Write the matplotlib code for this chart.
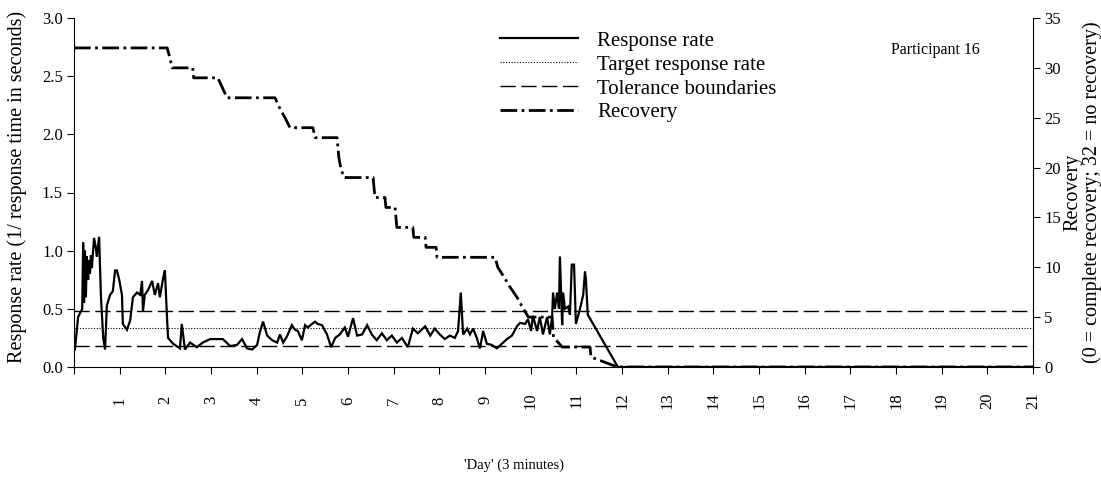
import matplotlib
matplotlib.use("Agg")
import matplotlib.pyplot as plt

plt.rcParams['font.family'] = ['Liberation Serif', 'DejaVu Serif']

# response rate (1 / response time)
resp_day = [0.02, 0.09, 0.18, 0.20, 0.22, 0.24, 0.26, 0.28, 0.31, 0.33, 0.35, 0.37,
            0.39, 0.44, 0.48, 0.50, 0.55, 0.59, 0.64, 0.68, 0.72, 0.79, 0.85, 0.90,
            0.94, 0.99, 1.05, 1.07, 1.16, 1.23, 1.29, 1.38, 1.45, 1.49, 1.51, 1.55,
            1.62, 1.71, 1.77, 1.84, 1.88, 1.95, 1.99, 2.04, 2.06, 2.17, 2.32, 2.36,
            2.43, 2.54, 2.69, 2.82, 2.98, 3.13, 3.26, 3.42, 3.57, 3.68, 3.79, 3.90,
            4.01, 4.07, 4.14, 4.23, 4.34, 4.45, 4.51, 4.58, 4.66, 4.77, 4.84, 4.90,
            4.99, 5.06, 5.12, 5.21, 5.28, 5.34, 5.43, 5.54, 5.63, 5.72, 5.82, 5.93,
            6.00, 6.11, 6.20, 6.31, 6.42, 6.52, 6.63, 6.74, 6.85, 6.96, 7.07, 7.18,
            7.31, 7.42, 7.53, 7.69, 7.80, 7.90, 8.01, 8.12, 8.23, 8.34, 8.41, 8.47,
            8.52, 8.61, 8.67, 8.74, 8.82, 8.89, 8.96, 9.04, 9.15, 9.26, 9.37, 9.48,
            9.59, 9.70, 9.77, 9.88, 9.94, 10.01, 10.05, 10.14, 10.20, 10.27, 10.36,
            10.42, 10.47, 10.49, 10.53, 10.58, 10.62, 10.64, 10.69, 10.71, 10.75,
            10.82, 10.86, 10.90, 10.95, 10.99, 11.04, 11.08, 11.15, 11.19, 11.21,
            11.25, 11.91, 21.0]
resp_val = [0.15, 0.43, 0.50, 1.07, 0.55, 1.00, 0.60, 0.95, 0.75, 0.92, 0.80, 0.96,
            0.85, 1.11, 1.02, 0.95, 1.12, 0.60, 0.25, 0.15, 0.53, 0.62, 0.65, 0.83,
            0.83, 0.75, 0.62, 0.37, 0.32, 0.40, 0.60, 0.64, 0.62, 0.74, 0.48, 0.62,
            0.66, 0.74, 0.62, 0.72, 0.60, 0.76, 0.83, 0.40, 0.25, 0.20, 0.16, 0.37,
            0.15, 0.21, 0.17, 0.21, 0.24, 0.24, 0.24, 0.18, 0.19, 0.24, 0.16, 0.15,
            0.19, 0.30, 0.39, 0.27, 0.23, 0.21, 0.28, 0.21, 0.26, 0.36, 0.32, 0.31,
            0.23, 0.36, 0.34, 0.37, 0.39, 0.37, 0.36, 0.28, 0.17, 0.25, 0.28, 0.34,
            0.26, 0.42, 0.27, 0.28, 0.36, 0.28, 0.23, 0.29, 0.23, 0.27, 0.21, 0.25,
            0.17, 0.33, 0.29, 0.35, 0.27, 0.33, 0.28, 0.24, 0.27, 0.25, 0.31, 0.64,
            0.28, 0.33, 0.28, 0.33, 0.25, 0.16, 0.31, 0.20, 0.19, 0.16, 0.20, 0.24,
            0.27, 0.35, 0.38, 0.37, 0.41, 0.31, 0.44, 0.31, 0.43, 0.28, 0.43,
            0.28, 0.43, 0.64, 0.50, 0.64, 0.50, 0.95, 0.36, 0.64, 0.50,
            0.52, 0.45, 0.88, 0.88, 0.37, 0.44, 0.50, 0.62, 0.82, 0.75,
            0.45, 0.0, 0.0]

target_rate = 0.335
tolerance = [0.18, 0.485]

# recovery score (right axis, 32 = no recovery)
rec_day = [0, 2.04, 2.1, 2.15, 2.6, 2.62, 3.15, 3.25, 3.35, 4.4, 4.5, 4.62, 4.73,
           5.23, 5.28, 5.76, 5.8, 5.84, 5.91, 6.55, 6.59, 6.81, 6.83, 7.03, 7.07,
           7.42, 7.44, 7.69, 7.71, 7.93, 7.95, 9.22, 9.28, 9.42, 9.55, 9.7, 9.82,
           9.95, 10.47, 10.5, 10.69, 11.3, 11.32, 11.9, 21]
rec_val = [32, 32, 31, 30, 30, 29, 29, 28, 27, 27, 26, 25, 24,
           24, 23, 23, 21, 20, 19, 19, 17, 17, 16, 16, 14,
           14, 13, 13, 12, 12, 11, 11, 10, 9, 8, 7, 6,
           5, 5, 3, 2, 2, 1, 0, 0]

days = list(range(0, 22))
day_labels = [''] + [str(d) for d in days[1:]]

fig = plt.figure(figsize=(11.01, 4.82), dpi=100)
ax = fig.add_axes([74 / 1101, 1 - 367 / 482, 959 / 1101, 349 / 482])
ax2 = ax.twinx()

l_resp, = ax.plot(resp_day, resp_val, color='black', lw=1.6, solid_joinstyle='miter')
l_target = ax.axhline(target_rate, color='black', lw=0.8, linestyle=(0, (1, 1.5)))
l_tol = ax.axhline(tolerance[0], color='black', lw=1.0, linestyle=(0, (11, 4)))
ax.axhline(tolerance[1], color='black', lw=1.0, linestyle=(0, (11, 4)))
l_rec, = ax2.plot(rec_day, rec_val, color='black', lw=2.0,
                  linestyle=(0, (6, 1.6, 1, 1.6)))

ax.set_xlim(0, 21)
ax.set_ylim(0, 3.0)
ax2.set_ylim(0, 35)
ax.set_xticks(days)
ax.set_xticklabels(day_labels, rotation=90, va='center', fontsize=12)
ax.set_yticks([0, 0.5, 1.0, 1.5, 2.0, 2.5, 3.0])
ax.set_yticklabels(['0.0', '0.5', '1.0', '1.5', '2.0', '2.5', '3.0'], fontsize=12)
ax2.set_yticks(range(0, 36, 5))
ax2.set_yticklabels([str(v) for v in range(0, 36, 5)], fontsize=12)

ax.tick_params(axis='x', direction='out', length=5, width=0.8, pad=19)
ax.tick_params(axis='y', direction='out', length=5, width=0.8, pad=3)
ax2.tick_params(axis='y', direction='out', length=5, width=0.8, pad=3)

for a in (ax, ax2):
    a.spines['top'].set_visible(False)
ax.spines['right'].set_visible(False)
ax2.spines['left'].set_visible(False)
ax2.spines['bottom'].set_visible(False)

ax.set_ylabel('Response rate (1/ response time in seconds)', fontsize=14.5)
ax.yaxis.set_label_coords(-0.049, 0.516)
ax2.set_ylabel('Recovery\n(0 = complete recovery; 32 = no recovery)', fontsize=14.5,
               linespacing=0.95)
ax2.yaxis.set_label_coords(1.032, 0.5)
ax.set_xlabel("'Day' (3 minutes)", fontsize=10.5)
ax.xaxis.set_label_coords(0.459, -0.262)

fig.text(935 / 1101, 1 - 50 / 482, 'Participant 16', fontsize=11.5,
         ha='center', va='center')

fig.legend([l_resp, l_target, l_tol, l_rec],
           ['Response rate', 'Target response rate', 'Tolerance boundaries', 'Recovery'],
           loc='upper left', bbox_to_anchor=(500 / 1101, 1 - 31 / 482),
           frameon=False, fontsize=15, handlelength=3.75, handletextpad=0.9,
           labelspacing=0.21, borderpad=0, borderaxespad=0)

fig.savefig('out.png', dpi=100)
